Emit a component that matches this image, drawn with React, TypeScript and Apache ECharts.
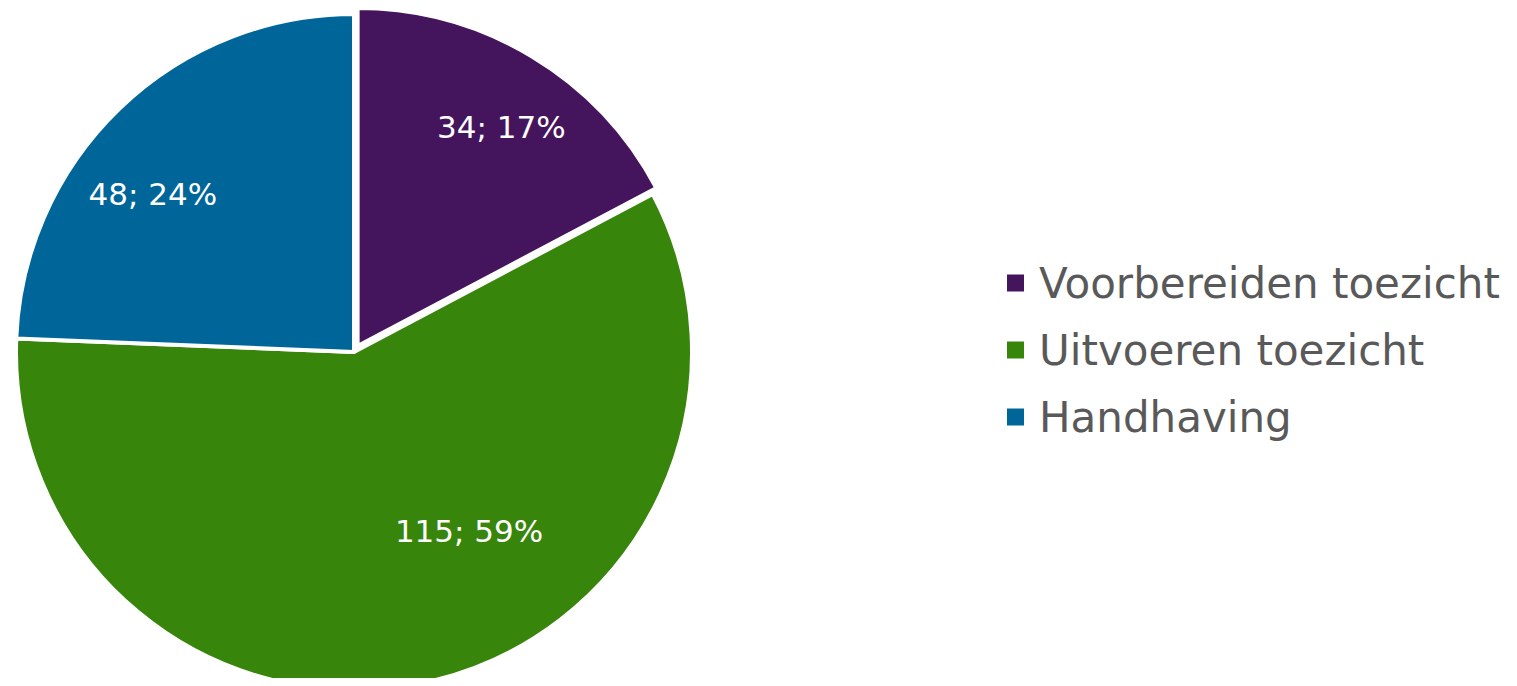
import React, { useEffect, useRef } from "react";
import * as echarts from "echarts";

const categories = ["Voorbereiden toezicht", "Uitvoeren toezicht", "Handhaving"];
const values = [34, 115, 48];
const colors = ["#44155d", "#38850c", "#006699"];
const labelShift = [
  [55, -72],
  [77, 11],
  [-82, -34],
];

export default function App() {
  const ref = useRef<HTMLDivElement>(null);
  useEffect(() => {
    if (!ref.current) return;
    const chart = echarts.init(ref.current, null, { renderer: "svg" });
    chart.setOption({
      animation: false,
      textStyle: { fontFamily: "DejaVu Sans" },
      legend: {
        orient: "vertical",
        left: 997,
        top: 250,
        padding: 0,
        icon: "rect",
        itemWidth: 19,
        itemHeight: 19,
        itemGap: 17,
        selectedMode: false,
        textStyle: { fontSize: 42, color: "#595959", fontFamily: "DejaVu Sans", lineHeight: 50, padding: [0, 0, 0, 9] },
        data: categories,
      },
      series: [
        {
          type: "pie",
          center: [346, 344],
          radius: 338,
          startAngle: 90,
          clockwise: true,
          selectedMode: "single",
          selectedOffset: 7,
          percentPrecision: 0,
          itemStyle: { borderColor: "#ffffff", borderWidth: 4 },
          label: {
            position: "inside",
            color: "#ffffff",
            fontSize: 31,
            fontFamily: "DejaVu Sans",
            formatter: "{c}; {d}%",
          },
          labelLayout: (p: any) => ({ dx: labelShift[p.dataIndex][0], dy: labelShift[p.dataIndex][1] }),
          emphasis: { disabled: true },
          data: categories.map((name, i) => ({
            name,
            value: values[i],
            selected: i === 0,
            itemStyle: { color: colors[i] },
          })),
        },
      ],
    });
    return () => chart.dispose();
  }, []);
  return <div ref={ref} style={{ width: 1501, height: 670 }} />;
}
